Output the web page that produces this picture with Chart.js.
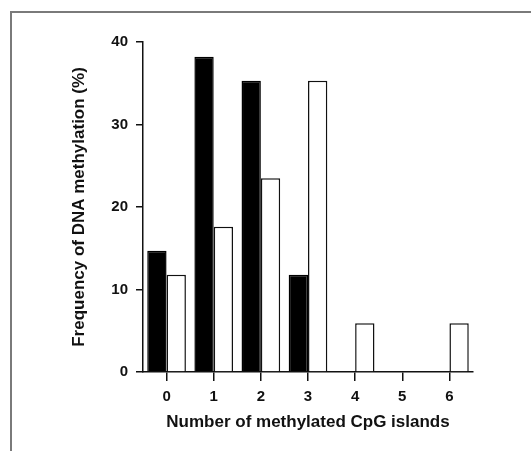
<!DOCTYPE html>
<html>
<head>
<meta charset="utf-8">
<script src="https://cdn.jsdelivr.net/npm/chart.js@4/dist/chart.umd.min.js"></script>
<style>
  html, body { margin: 0; padding: 0; background: #fff; overflow: hidden; }
</style>
</head>
<body>
<canvas id="chart" width="531" height="451"></canvas>
<script>
'use strict';

let categories = ['0', '1', '2', '3', '4', '5', '6'];
let blackValues = [14.7, 38.2, 35.3, 11.8, 0, 0, 0];
let whiteValues = [11.8, 17.6, 23.5, 35.3, 5.9, 0, 5.9];
let yTicks = [0, 10, 20, 30, 40];

// grey frame round the figure (left and top edges only are in view)
let framePlugin = {
  id: 'frame',
  beforeDraw(chart) {
    let ctx = chart.ctx;
    ctx.save();
    ctx.fillStyle = '#fff';
    ctx.fillRect(0, 0, chart.width, chart.height);
    ctx.strokeStyle = '#7a7a7a';
    ctx.lineWidth = 2;
    ctx.beginPath();
    ctx.moveTo(11, chart.height);
    ctx.lineTo(11, 12);
    ctx.lineTo(chart.width, 12);
    ctx.stroke();
    ctx.restore();
  }
};

let canvasElem = document.getElementById('chart');
let tickFont = { family: 'Liberation Sans, Arial', size: 15, weight: 'bold' };
let titleFont = { family: 'Liberation Sans, Arial', size: 17, weight: 'bold' };

new Chart(canvasElem, {
  type: 'bar',
  data: {
    labels: categories,
    datasets: [{
      data: blackValues,
      backgroundColor: '#000',
      borderColor: '#000',
      borderWidth: 1.5
    },
    {
      data: whiteValues,
      backgroundColor: '#fff',
      borderColor: '#111',
      borderWidth: 1.5
    }]
  },
  plugins: [framePlugin],
  options: {
    responsive: false,
    animation: false,
    layout: { padding: { left: 0, top: 42, right: 58, bottom: 0 } },
    datasets: { bar: { categoryPercentage: 0.82, barPercentage: 1.0 } },
    plugins: { legend: { display: false }, tooltip: { enabled: false } },
    scales: {
      x: {
        offset: true,
        grid: { offset: false, drawOnChartArea: false, drawTicks: true, tickLength: 9, color: '#111', lineWidth: 1.5 },
        border: { display: true, color: '#111', width: 1.5 },
        ticks: { color: '#111', font: tickFont, padding: 7 },
        title: { display: true, text: 'Number of methylated CpG islands', color: '#111', font: titleFont, padding: { top: 0, bottom: 18 } },
        afterFit(scale) { scale.height = 79; }
      },
      y: {
        min: 0,
        max: 40,
        afterBuildTicks(scale) { scale.ticks = yTicks.map(v => ({ value: v })); },
        grid: { drawOnChartArea: false, drawTicks: true, tickLength: 7, color: '#111', lineWidth: 1.5 },
        border: { display: true, color: '#111', width: 1.5 },
        ticks: { color: '#111', font: tickFont, padding: 8 },
        title: { display: true, text: 'Frequency of DNA methylation (%)', color: '#111', font: titleFont, padding: { top: 69, bottom: 0 } },
        afterFit(scale) { scale.width = 143; }
      }
    }
  }
});
</script>
</body>
</html>
